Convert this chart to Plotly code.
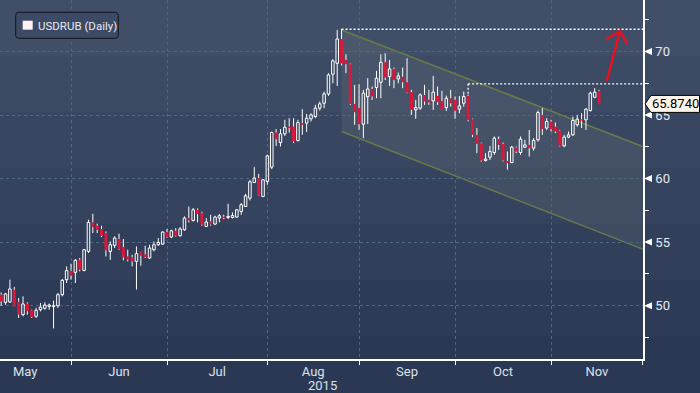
import plotly.graph_objects as go
import pandas as pd
import numpy as np

# ---------------- data (USDRUB daily) ----------------
first_day = "2015-05-08"
open_ = [50.86, 50.26, 50.29, 51.25, 50.31, 49.29, 50.16, 49.63, 49.16, 49.68,
         49.79, 49.94, 49.92, 49.99, 50.86, 52.04, 52.75, 52.62, 53.61, 52.77,
         54.27, 56.55, 56.29, 56.03, 55.71, 54.27, 54.74, 55.24, 54.61, 53.87,
         53.80, 53.48, 54.27, 54.03, 53.75, 54.40, 54.79, 54.84, 55.79, 55.40,
         55.89, 55.50, 55.97, 56.89, 56.70, 57.54, 57.28, 56.23, 56.62, 56.42,
         56.89, 56.99, 56.94, 56.94, 56.97, 57.41, 57.80, 58.46, 59.69, 60.04,
         58.59, 59.77, 60.90, 63.62, 62.83, 63.52, 64.09, 64.09, 62.99, 64.36,
         64.36, 64.70, 64.88, 65.54, 65.93, 66.66, 68.21, 69.07, 70.98, 69.33,
         69.00, 65.87, 65.54, 64.28, 66.45, 67.05, 67.16, 67.58, 69.15, 68.02,
         68.63, 67.84, 68.02, 67.58, 66.80, 65.40, 65.54, 66.58, 66.19, 66.11,
         66.50, 66.11, 65.58, 66.32, 66.19, 65.46, 65.93, 66.50, 64.67, 63.44,
         62.78, 61.42, 61.68, 62.05, 63.10, 62.73, 61.39, 61.26, 62.44, 62.05,
         62.47, 62.65, 62.39, 63.05, 65.01, 63.97, 64.49, 64.09, 63.78, 62.57,
         63.26, 63.44, 64.23, 64.67, 64.62, 65.35, 66.40, 66.90]
high = [51.04, 51.00, 52.04, 51.47, 50.60, 50.73, 50.26, 49.68, 49.82, 50.21,
        50.26, 50.16, 50.39, 51.00, 52.10, 53.09, 53.30, 53.67, 53.75, 54.46,
        56.76, 57.23, 56.45, 56.29, 55.84, 55.05, 55.45, 55.66, 55.24, 54.40,
        54.00, 54.66, 54.27, 54.71, 54.79, 55.05, 55.32, 55.84, 56.03, 55.97,
        56.10, 56.18, 57.02, 57.80, 57.68, 57.65, 57.39, 56.89, 57.15, 57.07,
        57.20, 57.15, 58.01, 57.33, 57.60, 58.07, 58.80, 59.90, 60.90, 60.37,
        59.95, 61.87, 63.70, 63.89, 63.89, 64.62, 64.75, 64.75, 64.62, 65.46,
        65.09, 65.14, 65.80, 66.06, 66.84, 68.29, 69.39, 71.69, 71.75, 69.78,
        69.05, 67.37, 67.42, 66.98, 67.90, 67.24, 68.47, 69.78, 69.86, 69.33,
        68.73, 68.34, 68.73, 69.47, 66.98, 66.19, 66.71, 67.37, 66.98, 68.08,
        67.24, 66.90, 66.53, 66.98, 66.45, 66.50, 66.84, 66.60, 64.72, 63.97,
        62.83, 62.00, 62.57, 63.31, 63.31, 62.83, 62.13, 62.57, 62.52, 63.31,
        63.05, 63.83, 63.18, 65.35, 65.54, 64.75, 64.62, 64.41, 63.83, 63.44,
        63.70, 64.88, 65.01, 65.14, 65.54, 66.84, 67.11, 66.98]
low = [49.99, 50.07, 50.21, 49.94, 49.03, 49.16, 49.29, 49.03, 49.03, 49.55,
       49.68, 49.68, 48.21, 49.82, 50.73, 51.78, 52.04, 51.78, 52.70, 52.70,
       54.14, 55.71, 55.71, 55.40, 53.87, 53.61, 54.53, 54.40, 53.56, 53.48,
       53.09, 51.26, 53.14, 53.75, 53.67, 54.27, 54.71, 54.79, 55.32, 55.32,
       55.44, 55.44, 55.89, 56.55, 56.62, 56.55, 56.29, 56.18, 56.29, 56.34,
       56.55, 56.81, 56.81, 56.86, 56.92, 57.15, 57.76, 58.28, 59.64, 58.64,
       58.54, 59.51, 60.74, 62.57, 62.52, 63.36, 63.62, 62.79, 62.91, 63.44,
       63.67, 64.49, 64.75, 65.35, 65.54, 66.50, 67.50, 67.29, 68.90, 68.29,
       65.80, 64.23, 63.83, 63.18, 64.28, 66.19, 66.32, 66.32, 67.76, 67.29,
       67.11, 67.50, 67.11, 66.72, 65.01, 64.70, 65.40, 65.80, 65.80, 65.40,
       65.80, 65.40, 65.32, 65.66, 64.70, 65.14, 65.66, 64.50, 63.26, 62.00,
       61.34, 61.34, 61.47, 61.87, 62.26, 61.34, 60.69, 61.21, 62.00, 61.87,
       62.39, 61.73, 62.20, 62.91, 63.44, 63.83, 63.70, 63.57, 62.52, 62.47,
       63.18, 63.36, 64.09, 63.97, 63.83, 65.27, 66.32, 65.87]
close = [50.33, 50.92, 51.31, 49.96, 49.29, 50.13, 49.55, 49.11, 49.63, 49.89,
         50.05, 50.05, 50.00, 50.86, 51.99, 52.75, 52.36, 53.56, 52.83, 54.40,
         56.55, 56.18, 55.97, 55.50, 54.35, 54.79, 55.32, 54.45, 53.80, 53.61,
         53.48, 54.09, 53.93, 53.83, 54.53, 54.79, 54.97, 55.79, 55.37, 55.89,
         55.50, 56.03, 56.89, 56.70, 57.54, 57.20, 56.37, 56.58, 56.37, 56.97,
         57.07, 56.89, 57.02, 57.10, 57.54, 57.94, 58.64, 59.74, 60.04, 58.66,
         59.90, 61.79, 63.62, 63.10, 63.52, 64.04, 63.97, 62.91, 64.41, 64.22,
         64.75, 65.01, 65.54, 65.88, 66.66, 68.15, 69.26, 70.98, 69.07, 69.00,
         65.87, 65.22, 64.28, 66.72, 67.05, 66.45, 67.90, 69.15, 67.94, 68.63,
         67.76, 68.08, 67.58, 66.76, 65.40, 65.58, 66.58, 66.06, 65.98, 66.80,
         66.01, 65.42, 66.32, 65.93, 65.33, 65.72, 66.45, 64.60, 63.44, 62.73,
         61.42, 61.53, 62.13, 63.18, 62.65, 61.42, 61.21, 62.47, 62.13, 63.10,
         62.65, 62.39, 62.99, 65.19, 63.89, 64.49, 63.89, 63.70, 62.57, 63.26,
         63.44, 64.57, 64.67, 64.56, 65.46, 66.72, 66.80, 65.874]
last_price_text = "65.8740"
month_names = ["May", "Jun", "Jul", "Aug", "Sep", "Oct", "Nov"]
year_label = "2015"
legend_label = "USDRUB (Daily)"
y_major = [50, 55, 60, 65, 70]
y_minor = [47.5, 52.5, 57.5, 62.5, 67.5, 72.5]

# annotation drawings (trading-day index, price)
channel_upper = [(78, 71.69), (147, 62.52)]
channel_lower = [(78, 63.70), (147, 54.45)]
resist_top = (78, 71.75)
resist_mid = (107, 67.45, 66.6)
arrow_shaft = [(138.75, 67.68), (141.8, 71.61)]
arrow_head = [(138.6, 70.96), (141.8, 71.61), (143.5, 70.57)]

# ---------------- axis calendar ----------------
cal = pd.bdate_range("2015-05-01", "2015-12-01")
start = list(cal).index(pd.Timestamp(first_day))
cal_idx = np.arange(len(cal)) - start
cal_df = pd.DataFrame({"d": cal, "i": cal_idx})
bounds = cal_df.groupby(cal_df["d"].dt.to_period("M"))["i"].min().tolist()  # May..Dec
mids = [(bounds[k] + bounds[k + 1]) / 2 for k in range(len(bounds) - 1)]

X0, X1 = -0.27, 147.07
Y0, Y1 = 45.8, 74.05

idx = list(range(len(close)))

RED = "#D9183B"
WHITE = "#FFFFFF"
FONT = "Roboto, Liberation Sans, Arial, sans-serif"
LABEL_C = "#DCE1EA"

fig = go.Figure()

# wicks
wx, wy = [], []
for k in idx:
    top = max(open_[k], close[k])
    bot = min(open_[k], close[k])
    wx += [k, k, None, k, k, None]
    wy += [high[k], top, None, bot, low[k], None]
fig.add_trace(go.Scatter(x=wx, y=wy, mode="lines", line=dict(color=WHITE, width=1),
                         hoverinfo="skip", showlegend=False))

# bodies
up = [k for k in idx if close[k] >= open_[k]]
dn = [k for k in idx if close[k] < open_[k]]
fig.add_trace(go.Bar(x=up, base=[open_[k] for k in up],
                     y=[max(close[k] - open_[k], 0.03) for k in up],
                     width=0.58, marker=dict(color="rgba(0,0,0,0)", line=dict(color=WHITE, width=1)),
                     hoverinfo="skip", showlegend=False))
fig.add_trace(go.Bar(x=dn, base=[close[k] for k in dn],
                     y=[max(open_[k] - close[k], 0.03) for k in dn],
                     width=0.7, marker=dict(color=RED, line=dict(width=0)),
                     hoverinfo="skip", showlegend=False))

shapes = []
# background gradient bands (whole figure)
top_c = np.array([64, 78, 104])
bot_c = np.array([43, 56, 84])
nb = 7
ybot_paper = -34 / 359
for b in range(nb):
    c = top_c + (bot_c - top_c) * (b / (nb - 1))
    y_hi = 1 - (1 - ybot_paper) * b / nb
    y_lo = 1 - (1 - ybot_paper) * (b + 1) / nb
    shapes.append(dict(type="rect", xref="paper", yref="paper", x0=-0.01, x1=1.1,
                       y0=y_lo - 0.002, y1=y_hi + 0.002, fillcolor="rgb(%d,%d,%d)" % tuple(c.astype(int)),
                       line=dict(width=0), layer="below"))

# channel fill + lines
(ux0, uy0), (ux1, uy1) = channel_upper
(lx0, ly0), (lx1, ly1) = channel_lower
shapes.append(dict(type="path", xref="x", yref="y",
                   path=f"M {ux0},{uy0} L {ux1},{uy1} L {lx1},{ly1} L {lx0},{ly0} Z",
                   fillcolor="rgba(165,170,150,0.11)", line=dict(width=0), layer="below"))
for (ax0, ay0), (ax1, ay1) in [channel_upper, channel_lower]:
    shapes.append(dict(type="line", xref="x", yref="y", x0=ax0, y0=ay0, x1=ax1, y1=ay1,
                       line=dict(color="#6C7948", width=1.5), layer="below"))

# dotted resistance lines
dot = dict(color=WHITE, width=1.3, dash="2px,2px")
shapes.append(dict(type="line", xref="x", yref="y", x0=resist_top[0], x1=X1,
                   y0=resist_top[1], y1=resist_top[1], line=dot, layer="above"))
shapes.append(dict(type="line", xref="x", yref="y", x0=resist_mid[0], x1=X1,
                   y0=resist_mid[1], y1=resist_mid[1], line=dot, layer="above"))
shapes.append(dict(type="line", xref="x", yref="y", x0=resist_mid[0], x1=resist_mid[0],
                   y0=resist_mid[1], y1=resist_mid[2], line=dot, layer="above"))

# red arrow
arr = dict(color="#E8101E", width=2.5)
shapes.append(dict(type="line", xref="x", yref="y", x0=arrow_shaft[0][0], y0=arrow_shaft[0][1],
                   x1=arrow_shaft[1][0], y1=arrow_shaft[1][1], line=arr, layer="above"))
shapes.append(dict(type="path", xref="x", yref="y",
                   path="M {},{} L {},{} L {},{}".format(*[v for p in arrow_head for v in p]),
                   line=arr, layer="above"))


def py(v):
    return (v - Y0) / (Y1 - Y0)


# right-axis triangle markers
for v in y_major:
    shapes.append(dict(type="path", xref="paper", yref="paper", xsizemode="pixel", ysizemode="pixel",
                       xanchor=1, yanchor=py(v), path="M 1,0 L 9,3.5 L 9,-3.5 Z",
                       fillcolor=WHITE, line=dict(width=0), layer="above"))

# last price tag
shapes.append(dict(type="path", xref="paper", yref="paper", xsizemode="pixel", ysizemode="pixel",
                   xanchor=1, yanchor=py(close[-1]),
                   path="M 2,0 L 8,8.5 L 56.5,8.5 L 56.5,-8.5 L 8,-8.5 Z",
                   fillcolor="#FFF4EA", line=dict(color="#000000", width=1), layer="above"))

# legend box
r = 3
L, R, T, B = 15.7, 118.3, -12.3, -38.3
legend_path = (f"M {L+r},{T} L {R-r},{T} Q {R},{T} {R},{T-r} L {R},{B+r} Q {R},{B} {R-r},{B} "
               f"L {L+r},{B} Q {L},{B} {L},{B+r} L {L},{T-r} Q {L},{T} {L+r},{T} Z")
shapes.append(dict(type="path", xref="paper", yref="paper", xsizemode="pixel", ysizemode="pixel",
                   xanchor=0, yanchor=1, path=legend_path,
                   fillcolor="#3C4A66", line=dict(color="#10141C", width=1), layer="above"))
shapes.append(dict(type="path", xref="paper", yref="paper", xsizemode="pixel", ysizemode="pixel",
                   xanchor=0, yanchor=1, path="M 22.7,-20.7 L 32.7,-20.7 L 32.7,-29.7 L 22.7,-29.7 Z",
                   fillcolor="#FFF2F2", line=dict(width=0), layer="above"))

annotations = [
    dict(xref="paper", yref="paper", x=0, y=1, xshift=36, yshift=-25.5, xanchor="left",
         yanchor="middle", text=legend_label, showarrow=False,
         font=dict(family=FONT, size=11.5, color="#E6E9F0")),
    dict(xref="paper", yref="paper", x=1, y=py(close[-1]), xshift=7, xanchor="left",
         yanchor="middle", text=last_price_text, showarrow=False,
         font=dict(family=FONT, size=13, color="#000000")),
    dict(xref="x", yref="paper", x=mids[3] + 2.2, y=0, yshift=-26, yanchor="middle",
         text=year_label, showarrow=False, font=dict(family=FONT, size=13, color=LABEL_C)),
]

grid = "#4D6883"
fig.update_layout(
    width=700, height=393,
    margin=dict(l=0, r=57, t=0, b=34),
    paper_bgcolor="rgb(43,56,84)", plot_bgcolor="rgba(0,0,0,0)",
    barmode="overlay", showlegend=False,
    shapes=shapes, annotations=annotations,
    font=dict(family=FONT, size=13, color=LABEL_C),
    xaxis=dict(range=[X0, X1], tickmode="array", tickvals=mids, ticktext=month_names,
               ticks="", showgrid=False, zeroline=False, showline=True, linecolor=WHITE, linewidth=1.5,
               tickfont=dict(family=FONT, size=13, color=LABEL_C),
               minor=dict(tickmode="array", tickvals=bounds, ticks="outside", ticklen=4,
                          tickcolor=WHITE, tickwidth=1, showgrid=True, gridcolor=grid,
                          griddash="dot", gridwidth=1)),
    yaxis=dict(range=[Y0, Y1], side="right", tickmode="array", tickvals=y_major,
               ticks="outside", ticklen=8, tickcolor="rgba(0,0,0,0)",
               showgrid=True, gridcolor=grid, griddash="dot", gridwidth=1, zeroline=False,
               showline=True, linecolor=WHITE, linewidth=1.5,
               tickfont=dict(family=FONT, size=13, color="#E6E9F0"),
               minor=dict(tickmode="array", tickvals=y_minor, ticks="outside", ticklen=4,
                          tickcolor=WHITE, tickwidth=1, showgrid=False)),
)

fig.write_html("out.html", config={"displayModeBar": False},
               post_script="document.body.style.margin='0';")
